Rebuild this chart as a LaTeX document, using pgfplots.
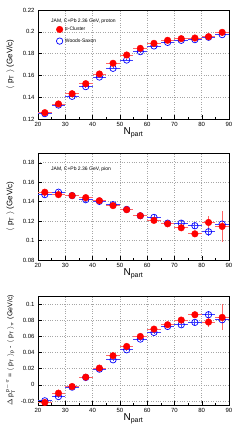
\documentclass[border=0pt]{standalone}
\usepackage{pgfplots}
\pgfplotsset{compat=1.18}
\usepackage{pgfplotstable}
\usepackage{fontspec}
\setmainfont{Liberation Sans}

\pgfplotstableread{
x    r      re     b      be
22.5 0.1258 0.0010 0.1249 0.0010
27.5 0.1338 0.0010 0.1328 0.0010
32.5 0.1432 0.0010 0.1408 0.0010
37.5 0.1524 0.0010 0.1497 0.0010
42.5 0.1613 0.0010 0.1585 0.0010
47.5 0.1711 0.0010 0.1665 0.0010
52.5 0.1787 0.0010 0.1741 0.0010
57.5 0.1848 0.0010 0.1818 0.0010
62.5 0.1894 0.0010 0.1870 0.0010
67.5 0.1922 0.0010 0.1903 0.0010
72.5 0.1937 0.0010 0.1922 0.0010
77.5 0.1943 0.0010 0.1928 0.0010
82.5 0.1955 0.0012 0.1950 0.0012
87.5 0.1995 0.0015 0.1974 0.0015
}\proton

\pgfplotstableread{
x    r      re     b      be
22.5 0.1497 0.0020 0.1472 0.0020
27.5 0.1472 0.0020 0.1497 0.0020
32.5 0.1462 0.0020 0.1462 0.0020
37.5 0.1441 0.0020 0.1420 0.0020
42.5 0.1410 0.0020 0.1403 0.0020
47.5 0.1359 0.0020 0.1369 0.0020
52.5 0.1317 0.0020 0.1320 0.0020
57.5 0.1255 0.0020 0.1255 0.0020
62.5 0.1207 0.0025 0.1238 0.0025
67.5 0.1172 0.0025 0.1179 0.0025
72.5 0.1131 0.0030 0.1179 0.0030
77.5 0.1069 0.0030 0.1152 0.0030
82.5 0.1186 0.0067 0.1090 0.0040
87.5 0.1145 0.0155 0.1169 0.0100
}\pion

\pgfplotstableread{
x    r       re     b       be
22.5 -0.0219 0.0015 -0.0198 0.0015
27.5 -0.0103 0.0015 -0.0145 0.0015
32.5 -0.0021 0.0015 -0.0029 0.0015
37.5  0.0095 0.0015  0.0091 0.0015
42.5  0.0207 0.0015  0.0194 0.0015
47.5  0.0360 0.0015  0.0310 0.0015
52.5  0.0475 0.0015  0.0434 0.0015
57.5  0.0599 0.0020  0.0566 0.0020
62.5  0.0690 0.0020  0.0649 0.0020
67.5  0.0744 0.0025  0.0723 0.0025
72.5  0.0802 0.0030  0.0744 0.0030
77.5  0.0868 0.0030  0.0773 0.0030
82.5  0.0777 0.0060  0.0868 0.0040
87.5  0.0835 0.0160  0.0806 0.0080
}\diff

\pgfplotsset{
  panel/.style={
    scale only axis, width=191pt, anchor=south west,
    xmin=20, xmax=90, xtick={20,30,...,90},
    tick align=inside, tick pos=left,
    major tick length=4pt,
    minor x tick num=1,
    minor tick length=2pt,
    grid=major,
    major grid style={dotted, gray!70, line width=0.45pt},
    axis line style={line width=0.6pt},
    tick style={line width=0.4pt, black},
    ticklabel style={font=\fontsize{6}{7}\selectfont},
    /pgf/number format/assume math mode=true,
    /pgf/number format/fixed,
    yticklabel style={/pgf/number format/precision=2},
    scaled y ticks=false,
    xlabel={N\textsubscript{part}},
    xlabel style={font=\fontsize{10}{11}\selectfont, at={(axis description cs:0.5,0)}, anchor=center, yshift=-14pt},
    ylabel style={font=\fontsize{8}{9}\selectfont, at={(axis description cs:-0.145,0.5)}, anchor=center, rotate=0},
    legend cell align=left,
  },
  bluepts/.style={only marks, mark=o, mark size=3.2pt, mark options={draw=blue, line width=0.7pt},
    error bars/.cd, x dir=both, x explicit, y dir=both, y explicit,
    error mark=none, error bar style={blue!75, line width=0.8pt}, /pgfplots/.cd},
  redpts/.style={only marks, mark=*, mark size=3.3pt, mark options={draw=red, fill=red},
    error bars/.cd, x dir=both, x explicit, y dir=both, y explicit,
    error mark=none, error bar style={red!60, line width=0.9pt}, /pgfplots/.cd},
}

\begin{document}
\begin{tikzpicture}
\useasboundingbox (0,0) rectangle (244pt,430pt);

% proton
\begin{axis}[panel, at={(38pt,311pt)}, height=109pt,
  ymin=0.12, ymax=0.22, ytick={0.12,0.14,0.16,0.18,0.2,0.22},
  ylabel={$\langle$ p$_\mathrm{T}$ $\rangle$ (GeV/c)},
  legend style={at={(axis description cs:0.095,0.865)}, anchor=north west, draw=none, fill=none,
    font=\fontsize{5}{6}\selectfont, row sep=2.5pt, inner sep=0pt},
  legend image code/.code={\draw[#1] plot coordinates {(0.2cm,0cm)};},
]
\addlegendimage{only marks, mark=*, mark size=3.3pt, mark options={draw=red, fill=red}}
\addlegendentry{α-Cluster}
\addlegendimage{only marks, mark=o, mark size=3.2pt, mark options={draw=blue, line width=0.7pt}}
\addlegendentry{Woods-Saxon}
\addplot[forget plot, bluepts] table[x=x, y=b, x error expr=2.5, y error=be] {\proton};
\addplot[forget plot, redpts] table[x=x, y=r, x error expr=2.5, y error=re] {\proton};
\node[anchor=west, font=\fontsize{5}{6}\selectfont, inner sep=0pt] at (axis description cs:0.068,0.9) {JAM, C+Pb 2.36 GeV, proton};
\end{axis}

% pion
\begin{axis}[panel, at={(38pt,170pt)}, height=107pt,
  ymin=0.08, ymax=0.19, ytick={0.08,0.1,0.12,0.14,0.16,0.18},
  ylabel={$\langle$ p$_\mathrm{T}$ $\rangle$ (GeV/c)},
]
\addplot[bluepts] table[x=x, y=b, x error expr=2.5, y error=be] {\pion};
\addplot[redpts] table[x=x, y=r, x error expr=2.5, y error=re] {\pion};
\node[anchor=west, font=\fontsize{5}{6}\selectfont, inner sep=0pt] at (axis description cs:0.068,0.85) {JAM, C+Pb 2.36 GeV, pion};
\end{axis}

% difference
\begin{axis}[panel, at={(38pt,25pt)}, height=109pt,
  ymin=-0.025, ymax=0.11, ytick={-0.02,0,0.02,0.04,0.06,0.08,0.1},
  ylabel={$\Delta$ p$_\mathrm{T}^{\,\mathrm{p}-\pi}$ = $\langle$ p$_\mathrm{T}$ $\rangle_\mathrm{p}$ - $\langle$ p$_\mathrm{T}$ $\rangle_\pi$ (GeV/c)},
  ylabel style={font=\fontsize{7}{8}\selectfont},
]
\addplot[bluepts] table[x=x, y=b, x error expr=2.5, y error=be] {\diff};
\addplot[redpts] table[x=x, y=r, x error expr=2.5, y error=re] {\diff};
\end{axis}
\end{tikzpicture}
\end{document}
